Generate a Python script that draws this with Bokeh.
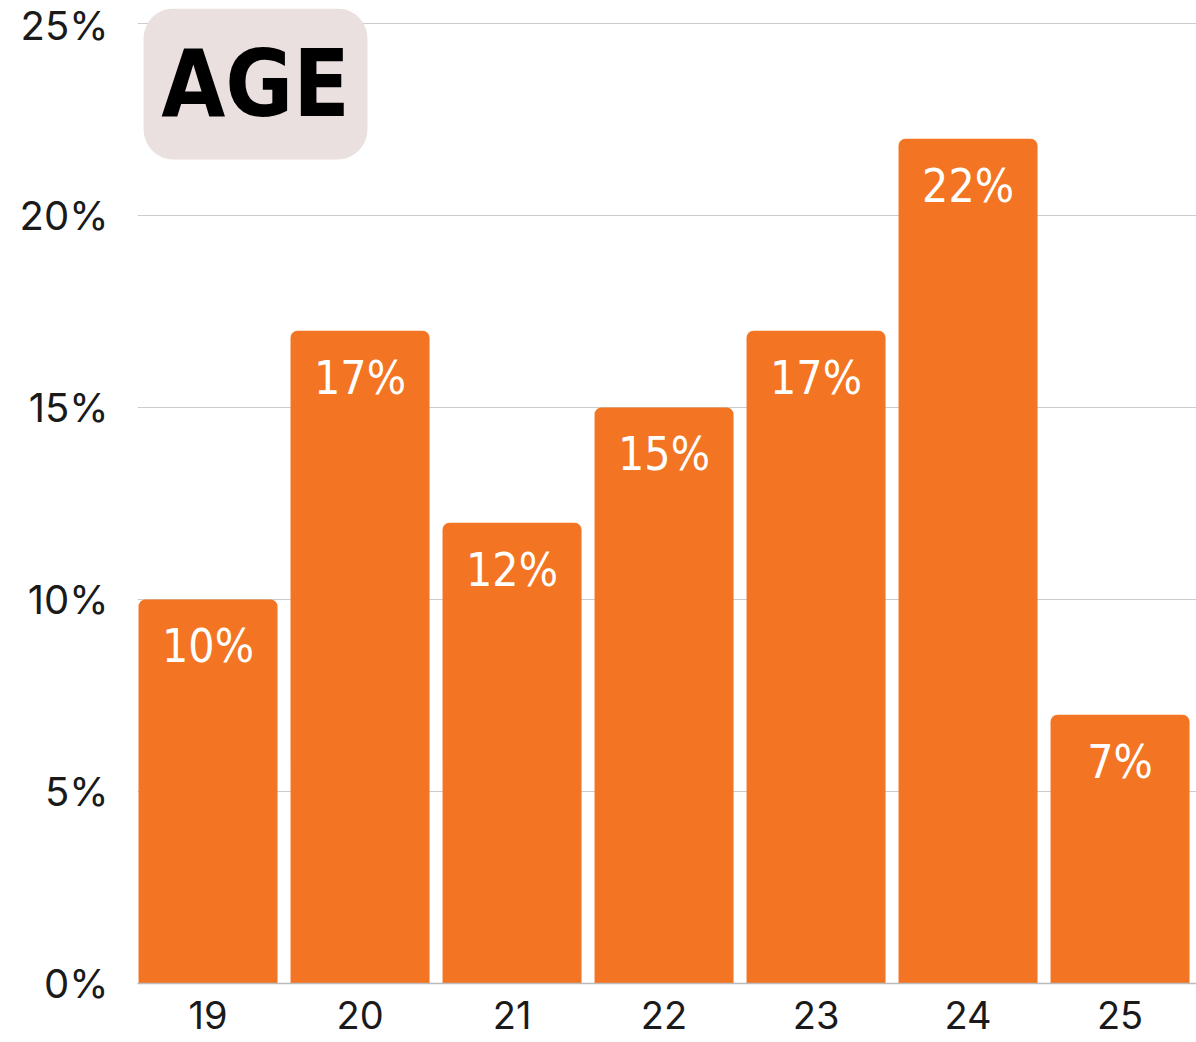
from bokeh.plotting import figure
from bokeh.models import Range1d, FixedTicker, BoxAnnotation, ColumnDataSource, Label, PrintfTickFormatter
from bokeh.core.properties import value
from bokeh.embed import file_html
from bokeh.resources import INLINE

ages = ["19", "20", "21", "22", "23", "24", "25"]
shares = [10, 17, 12, 15, 17, 22, 7]
y_ticks = [0, 5, 10, 15, 20, 25]
title_text = "AGE"

xs = list(range(len(ages)))
labels = [f"{v}%" for v in shares]
src = ColumnDataSource(dict(x=xs, top=shares, label=labels))

BAR = "#F37422"
AXIS_FONT = "Inter"
NARROW = "DejaVu Sans Condensed"

p = figure(output_backend="svg", toolbar_location=None,
           frame_width=1059, frame_height=975,
           x_range=Range1d(-0.464, 6.503), y_range=Range1d(0, 25.39),
           min_border_left=137, min_border_right=0, min_border_top=8, min_border_bottom=56)
p.outline_line_color = None
p.background_fill_color = "white"
p.border_fill_color = "white"

p.vbar(x="x", top="top", width=0.9145, source=src, fill_color=BAR, line_color=None,
       border_radius=(7, 7, 0, 0))

p.text(x="x", y="top", text="label", source=src, text_color="white",
       text_font=value(NARROW), text_font_size="46px", text_align="center",
       text_baseline="middle", y_offset=47)

box = BoxAnnotation(left=-0.424, right=1.049, top=25.39, bottom=21.46,
                    fill_color="#EAE0DF", fill_alpha=1.0, line_color=None,
                    border_radius=30, level="overlay")
p.add_layout(box)
p.add_layout(Label(x=0.3125, y=23.42, text=title_text, text_align="center",
                   text_baseline="middle", text_font=NARROW, text_font_style="bold",
                   text_font_size="92px", text_color="black", level="overlay"))

p.xgrid.grid_line_color = None
p.ygrid.grid_line_color = "#CCCCCC"
p.ygrid.grid_line_width = 1

p.yaxis.ticker = FixedTicker(ticks=y_ticks)
p.yaxis.formatter = PrintfTickFormatter(format="%d%%")
p.yaxis.axis_line_color = None
p.yaxis.major_tick_line_color = None
p.yaxis.minor_tick_line_color = None
p.yaxis.major_label_standoff = 23
p.yaxis.major_label_text_font = AXIS_FONT
p.yaxis.major_label_text_font_size = "40px"
p.yaxis.major_label_text_color = "#1a1a1a"

p.xaxis.ticker = FixedTicker(ticks=xs)
p.xaxis.major_label_overrides = {i: a for i, a in enumerate(ages)}
p.xaxis.axis_line_color = "#BBBBBB"
p.xaxis.axis_line_width = 1.5
p.xaxis.major_tick_line_color = None
p.xaxis.minor_tick_line_color = None
p.xaxis.major_label_standoff = 11
p.xaxis.major_label_text_font = AXIS_FONT
p.xaxis.major_label_text_font_size = "38px"
p.xaxis.major_label_text_line_height = 1.0
p.xaxis.major_label_text_color = "#1a1a1a"

open("out.html", "w").write(file_html(p, INLINE))
